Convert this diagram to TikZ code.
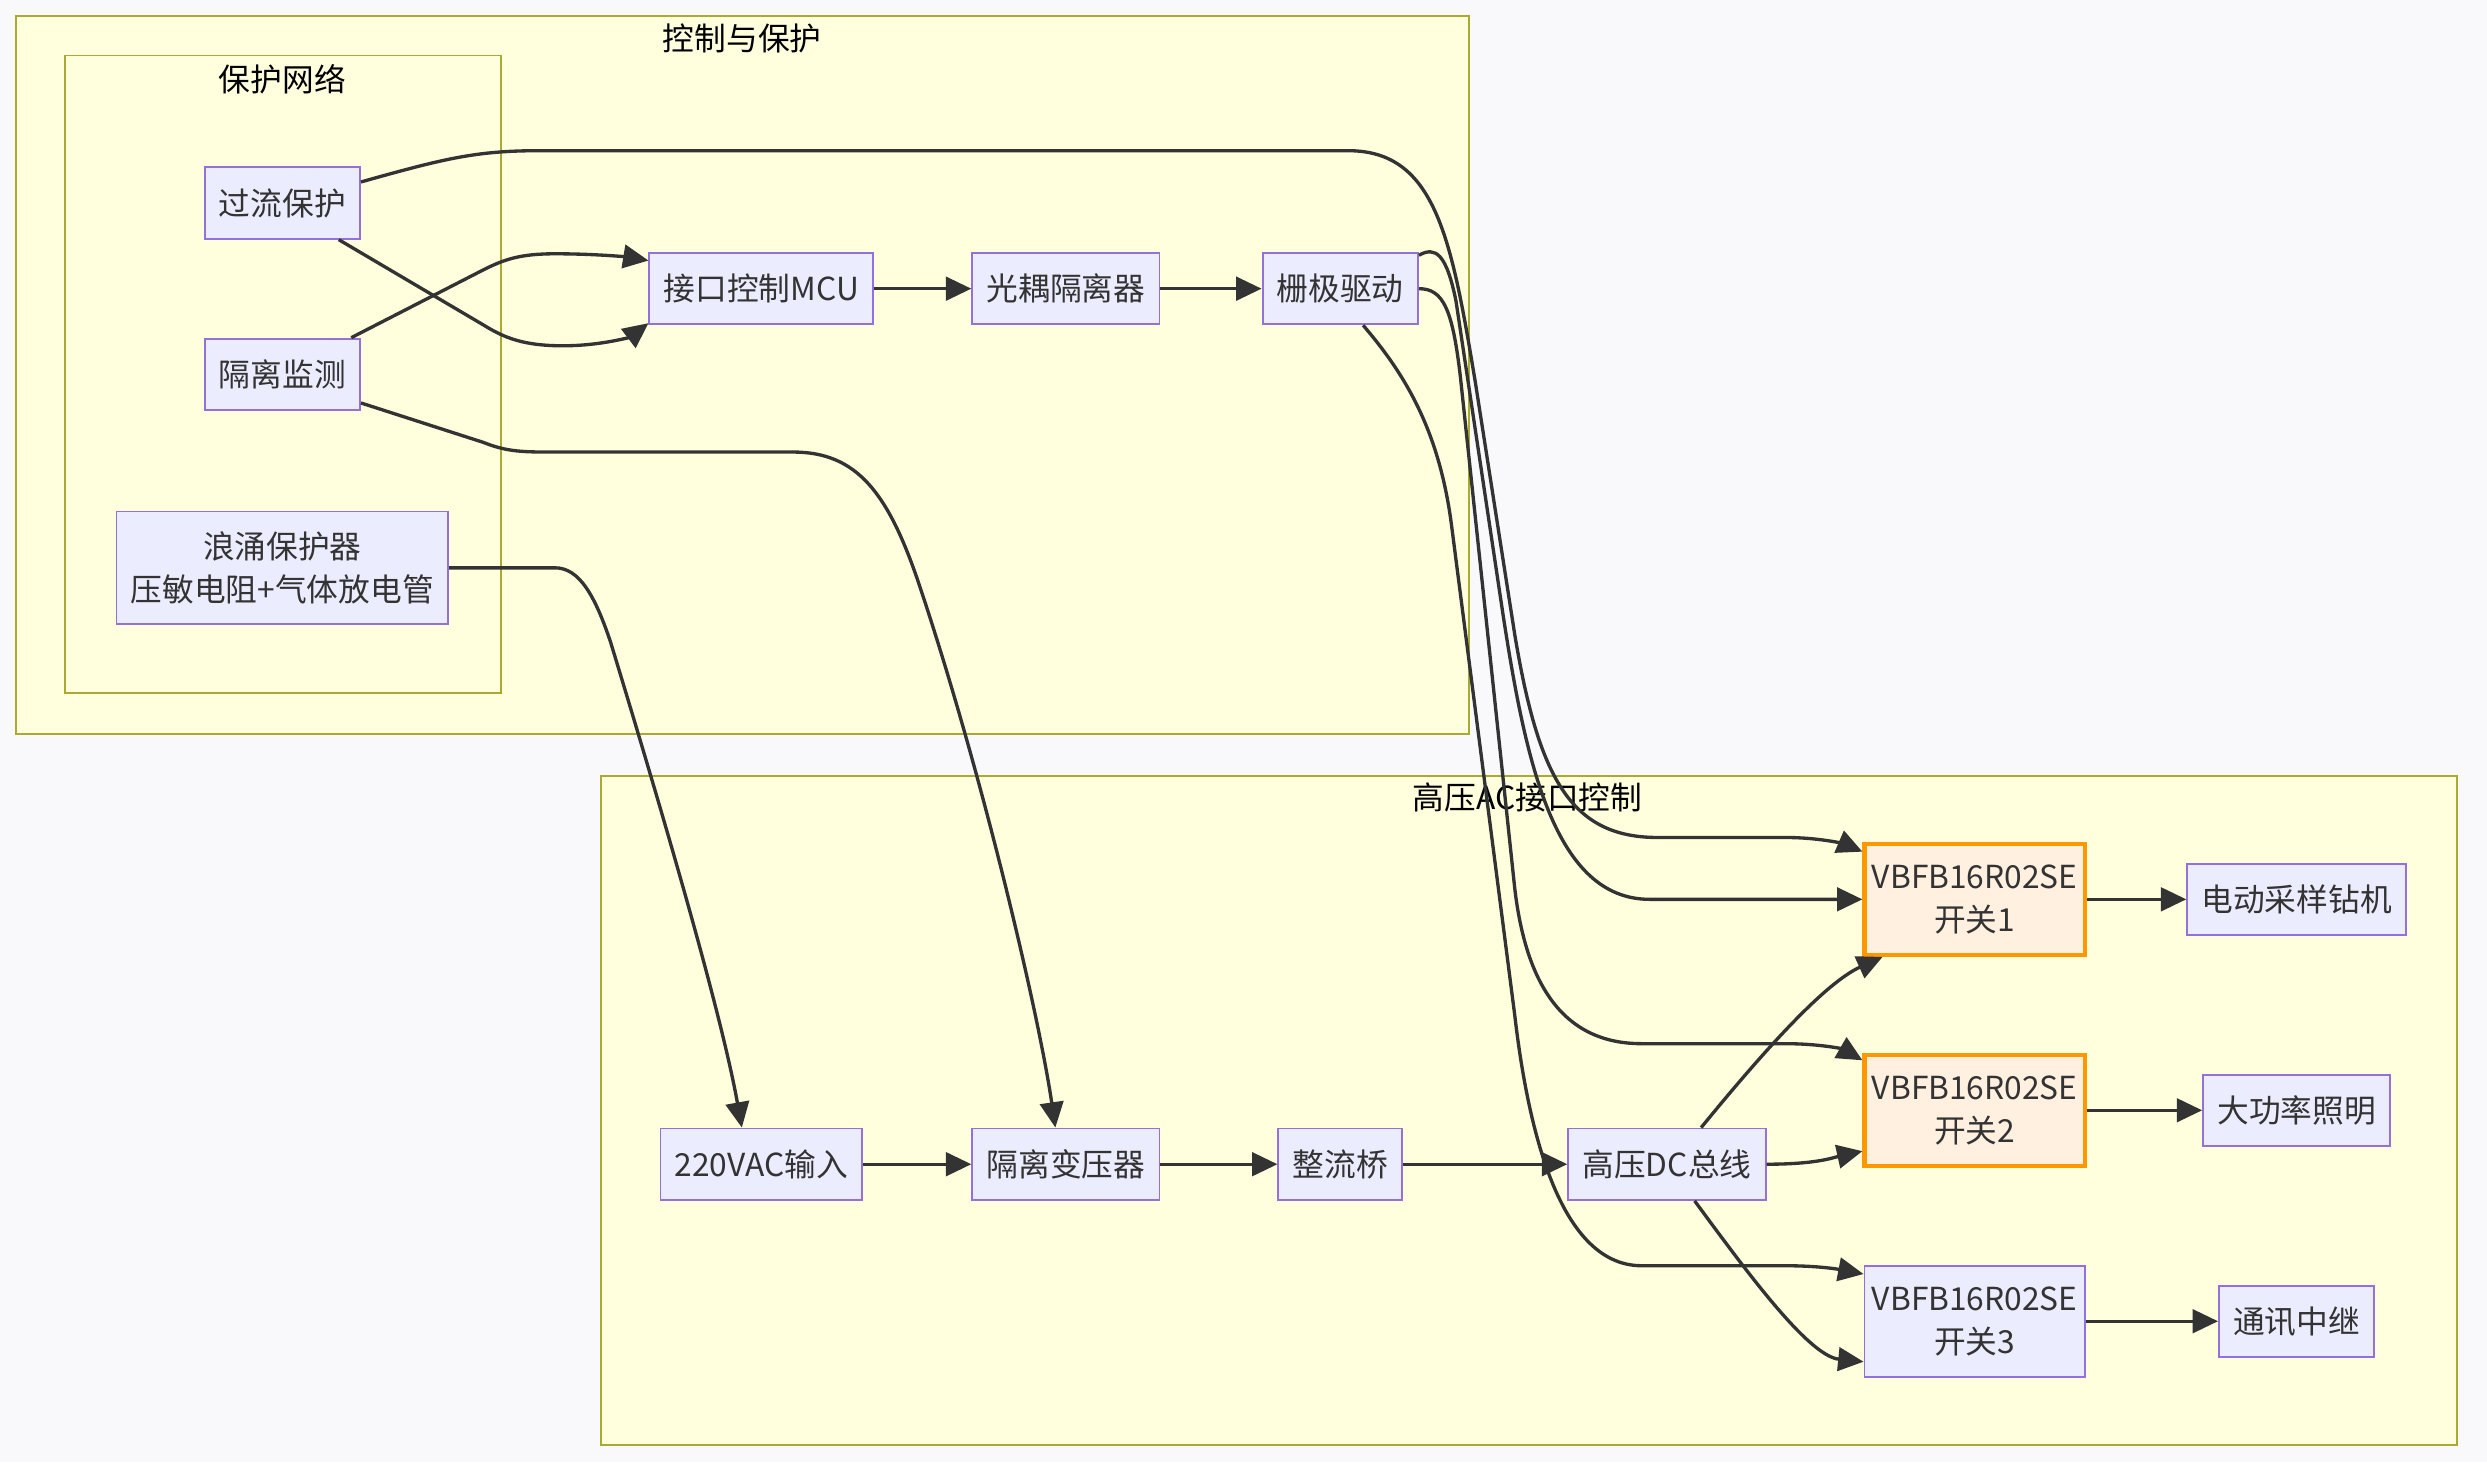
\documentclass[tikz,border=0pt]{standalone}
\usepackage{fontspec}
\setmainfont{Noto Sans CJK SC}
\usepackage{tikz}
\usetikzlibrary{shapes,positioning,calc}
\usetikzlibrary{arrows.meta}
\definecolor{beijing}{HTML}{F9F9FB}
\definecolor{kuangtian}{HTML}{ECECFF}
\definecolor{kuangbian}{HTML}{9370DB}
\definecolor{chengtian}{HTML}{FFF0E0}
\definecolor{chengbian}{HTML}{FF9800}
\definecolor{zutian}{HTML}{FFFFDE}
\definecolor{zubian}{HTML}{AAAA33}
\definecolor{xian}{HTML}{333333}
\tikzstyle{mokuai} = [rectangle, fill=kuangtian, draw=kuangbian, line width=0.6pt, text=xian,
inner xsep=4.5pt, minimum height=22.5pt, align=center, font=\fontsize{10}{13.5}\selectfont]
\tikzstyle{kaiguan} = [mokuai, fill=chengtian, draw=chengbian, line width=1.3pt, inner xsep=1pt, minimum width=69.5pt, minimum height=35pt]
\tikzstyle{fenzu} = [fill=zutian, draw=zubian, line width=0.6pt]
\tikzstyle{zubiaoti} = [text=black, font=\fontsize{10}{12}\selectfont]
\tikzstyle{arrow} = [line width=1.05pt, draw=xian, -{Triangle[length=8pt,width=7.4pt]}]

\begin{document}
\begin{tikzpicture}[x=0.5pt, y=-0.5pt]
					\useasboundingbox[fill=beijing] (0,0) rectangle (1568,922);
					\draw[fenzu] (10,10) rectangle (926,463);
					\node[zubiaoti] (kzbh) at (468,24) {控制与保护};
					\draw[fenzu] (41,35) rectangle (316,437);
					\node[zubiaoti] (bhwl) at (178,50) {保护网络};
					\draw[fenzu] (379,489) rectangle (1549,911);
					\node[zubiaoti] (gykz) at (963,503) {高压AC接口控制};
					\node (gl) at (178,128) [mokuai] {过流保护};
					\node (jc) at (178,236) [mokuai] {隔离监测};
					\node (ly) at (178,358) [mokuai, minimum height=35.5pt] {浪涌保护器\\压敏电阻+气体放电管};
					\node (mcu) at (480,182) [mokuai] {接口控制MCU};
					\node (og) at (672,182) [mokuai] {光耦隔离器};
					\node (sj) at (845,182) [mokuai] {栅极驱动};
					\node (ac) at (480,734) [mokuai] {220VAC输入};
					\node (byq) at (672,734) [mokuai] {隔离变压器};
					\node (zl) at (845,734) [mokuai] {整流桥};
					\node (dc) at (1051,734) [mokuai] {高压DC总线};
					\node (k1) at (1245,567) [kaiguan] {VBFB16R02SE\\开关1};
					\node (k2) at (1245,700) [kaiguan] {VBFB16R02SE\\开关2};
					\node (k3) at (1245,833) [mokuai, inner xsep=1pt, minimum width=69.5pt, minimum height=35pt] {VBFB16R02SE\\开关3};
					\node (zj) at (1448,567) [mokuai] {电动采样钻机};
					\node (zm) at (1448,700) [mokuai] {大功率照明};
					\node (tx) at (1448,833) [mokuai] {通讯中继};
					\draw[arrow] (mcu) -- (og);
					\draw[arrow] (og) -- (sj);
					\draw[arrow] (ac) -- (byq);
					\draw[arrow] (byq) -- (zl);
					\draw[arrow] (zl) -- (dc);
					\draw[arrow] (k1) -- (zj);
					\draw[arrow] (k2) -- (zm);
					\draw[arrow] (k3) -- (tx);
					\draw[arrow] (gl.15) .. controls (280,100) and (300,95) .. (340,95) -- (850,95)
						.. controls (905,95) and (915,150) .. (930,240) -- (955,400)
						.. controls (970,490) and (990,528) .. (1045,528) -- (1125,528)
						.. controls (1150,528) and (1165,533) .. (k1.157);
					\draw[arrow] (gl.-33) -- (305,205) .. controls (318,213) and (330,218) .. (355,218)
						.. controls (380,218) and (398,212) .. (mcu.197);
					\draw[arrow] (jc.28) -- (305,170) .. controls (318,163.5) and (328,160) .. (350,160)
						.. controls (375,160) and (395,162) .. (mcu.166);
					\draw[arrow] (jc.-20) -- (305,279) .. controls (320,285) and (330,285) .. (350,285) -- (500,285)
						.. controls (540,285) and (560,310) .. (580,370)
						.. controls (620,490) and (655,640) .. (byq.106);
					\draw[arrow] (ly.east) -- (350,358) .. controls (365,358) and (375,375) .. (385,405)
						.. controls (420,520) and (455,640) .. (ac.118);
					\draw[arrow] (sj.23) .. controls (905,155) and (912,160) .. (918,190) -- (948,390)
						.. controls (962,480) and (980,567) .. (1040,567) -- (k1.west);
					\draw[arrow] (sj.east) .. controls (910,182) and (916,195) .. (921,240) -- (955,560)
						.. controls (962,620) and (985,658) .. (1035,658) -- (1125,658)
						.. controls (1150,658) and (1163,662) .. (k2.156);
					\draw[arrow] (sj.-58) .. controls (885,235) and (907,270) .. (915,330) -- (955,640)
						.. controls (962,700) and (980,798) .. (1035,798) -- (1125,798)
						.. controls (1150,798) and (1163,801) .. (k3.157);
					\draw[arrow] (dc.47) .. controls (1110,665) and (1150,620) .. (k1.212);
					\draw[arrow] (dc.east) .. controls (1145,734) and (1155,730) .. (k2.200);
					\draw[arrow] (dc.-53) .. controls (1100,800) and (1140,855) .. (k3.200);
				\end{tikzpicture}
\end{document}
